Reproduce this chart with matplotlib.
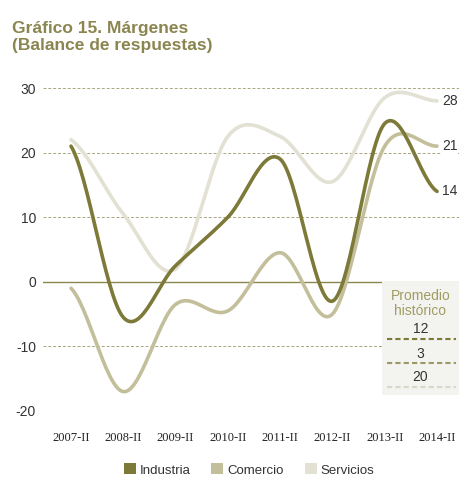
import numpy as np
import matplotlib
matplotlib.use("Agg")
import matplotlib.pyplot as plt
from matplotlib.patches import Patch, Rectangle
from matplotlib.lines import Line2D

# ── Data ──────────────────────────────────────────────────────────────────────
periods   = ["2007-II", "2008-II", "2009-II", "2010-II", "2011-II",
             "2012-II", "2013-II", "2014-II"]
industria = [21, -5.5, 2.5, 10, 19, -3, 24.5, 14]
comercio  = [-1, -17, -3.5, -4.5, 4.5, -5, 21, 21]
servicios = [22, 10.5, 2, 22.5, 22.5, 15.5, 28.5, 28]
promedio  = {"Industria": 12, "Comercio": 3, "Servicios": 20}
end_labels = ["14", "21", "28"]

# ── Style ─────────────────────────────────────────────────────────────────────
C_IND   = "#7d7938"
C_COM   = "#c3bf9b"
C_SER   = "#e2e1d3"
C_TITLE = "#8b8550"
C_GRID  = "#a9a57c"
C_TEXT  = "#333333"

W, H = 460, 483
TFONT = "Liberation Sans"


def px(x, y):
    """pixel (from top-left) -> figure fraction"""
    return x / W, 1 - y / H


def smooth(y, n=30):
    """Catmull-Rom style smoothing, like Excel's smoothed lines"""
    y = np.asarray(y, float)
    xs, ys = [], []
    for i in range(len(y) - 1):
        p0 = y[i - 1] if i > 0 else y[i]
        p3 = y[i + 2] if i + 2 < len(y) else y[i + 1]
        m0 = (y[i + 1] - p0) / 2
        m1 = (p3 - y[i]) / 2
        t = np.linspace(0, 1, n, endpoint=False)
        h00 = 2 * t**3 - 3 * t**2 + 1
        h10 = t**3 - 2 * t**2 + t
        h01 = -2 * t**3 + 3 * t**2
        h11 = t**3 - t**2
        xs.append(i + t)
        ys.append(h00 * y[i] + h10 * m0 + h01 * y[i + 1] + h11 * m1)
    xs.append([len(y) - 1])
    ys.append([y[-1]])
    return np.concatenate(xs), np.concatenate(ys)


fig = plt.figure(figsize=(W / 100, H / 100), dpi=100)
l, b = px(43, 411)
r, t = px(460, 88)
ax = fig.add_axes([l, b, r - l, t - b])

x0, x7 = 71, 437
unit = (x7 - x0) / 7
ax.set_xlim(-(x0 - 43) / unit, 7 + (460 - x7) / unit)
ax.set_ylim(-20, 30)

for v in [-20, -10, 10, 20, 30]:
    ax.axhline(v, color=C_GRID, lw=0.7, ls=(0, (3, 2)), zorder=1)
ax.axhline(0, color=C_TITLE, lw=1.0, zorder=1)

for vals, col, z in [(servicios, C_SER, 3), (comercio, C_COM, 4), (industria, C_IND, 5)]:
    sx, sy = smooth(vals)
    ax.plot(sx, sy, color=col, lw=2.6, solid_capstyle="round", zorder=z)

for vals, lab in zip([industria, comercio, servicios], end_labels):
    ax.annotate(lab, xy=(len(vals) - 1, vals[-1]), xytext=(3.5, 0),
                textcoords="offset points", va="center", ha="left",
                fontsize=10, color=C_TEXT, zorder=6, family=TFONT,
                bbox=dict(fc="white", ec="none", pad=0.5))

ax.set_xticks(range(len(periods)))
ax.set_xticklabels(periods, family="Liberation Serif", fontsize=9, color="#222222")
ax.set_yticks([-20, -10, 0, 10, 20, 30])
ax.set_yticklabels(["-20", "-10", "0", "10", "20", "30"], fontsize=10,
                   color=C_TEXT, family=TFONT)
ax.tick_params(axis="both", length=0)
ax.tick_params(axis="x", pad=15)
ax.tick_params(axis="y", pad=5)
for s in ax.spines.values():
    s.set_visible(False)

# Promedio histórico box
bx0, by0 = px(382, 395)
bx1, by1 = px(459, 281)
fig.add_artist(Rectangle((bx0, by0), bx1 - bx0, by1 - by0, transform=fig.transFigure,
                         fc="#f3f3ef", ec="none", zorder=3))
cx = (382 + 459) / 2
fig.text(*px(cx, 296), "Promedio", ha="center", va="center",
         fontsize=10, color="#a29c62", family=TFONT, zorder=4)
fig.text(*px(cx, 311), "histórico", ha="center", va="center",
         fontsize=10, color="#a29c62", family=TFONT, zorder=4)
for (name, val), (ty, ly, col) in zip(promedio.items(),
                                       [(329, 339, C_IND), (354, 363, "#9d9966"), (377, 387, "#d8d7c8")]):
    fig.text(*px(cx, ty), str(val), ha="center", va="center",
             fontsize=10, color=C_TEXT, family=TFONT, zorder=4)
    lx0, lyy = px(387, ly)
    lx1, _ = px(456, ly)
    fig.add_artist(Line2D([lx0, lx1], [lyy, lyy], transform=fig.transFigure,
                          color=col, lw=1.5, ls=(0, (2.5, 1.5)), zorder=4))

# Title
fig.text(*px(12, 37), "Gráfico 15. Márgenes\n(Balance de respuestas)",
         ha="left", va="center", fontsize=12.5, fontweight="bold",
         color=C_TITLE, family=TFONT, linespacing=1.1)

# Legend
handles = [Patch(fc=C_IND, ec="none"), Patch(fc=C_COM, ec="none"), Patch(fc=C_SER, ec="none")]
fig.legend(handles, ["Industria", "Comercio", "Servicios"], loc="center",
           bbox_to_anchor=px(249, 470), ncol=3, frameon=False,
           handlelength=0.9, handleheight=0.9, handletextpad=0.3, columnspacing=1.6,
           labelcolor=C_TEXT, prop={"family": TFONT, "size": 9.5})

fig.savefig("out.png", dpi=100)
